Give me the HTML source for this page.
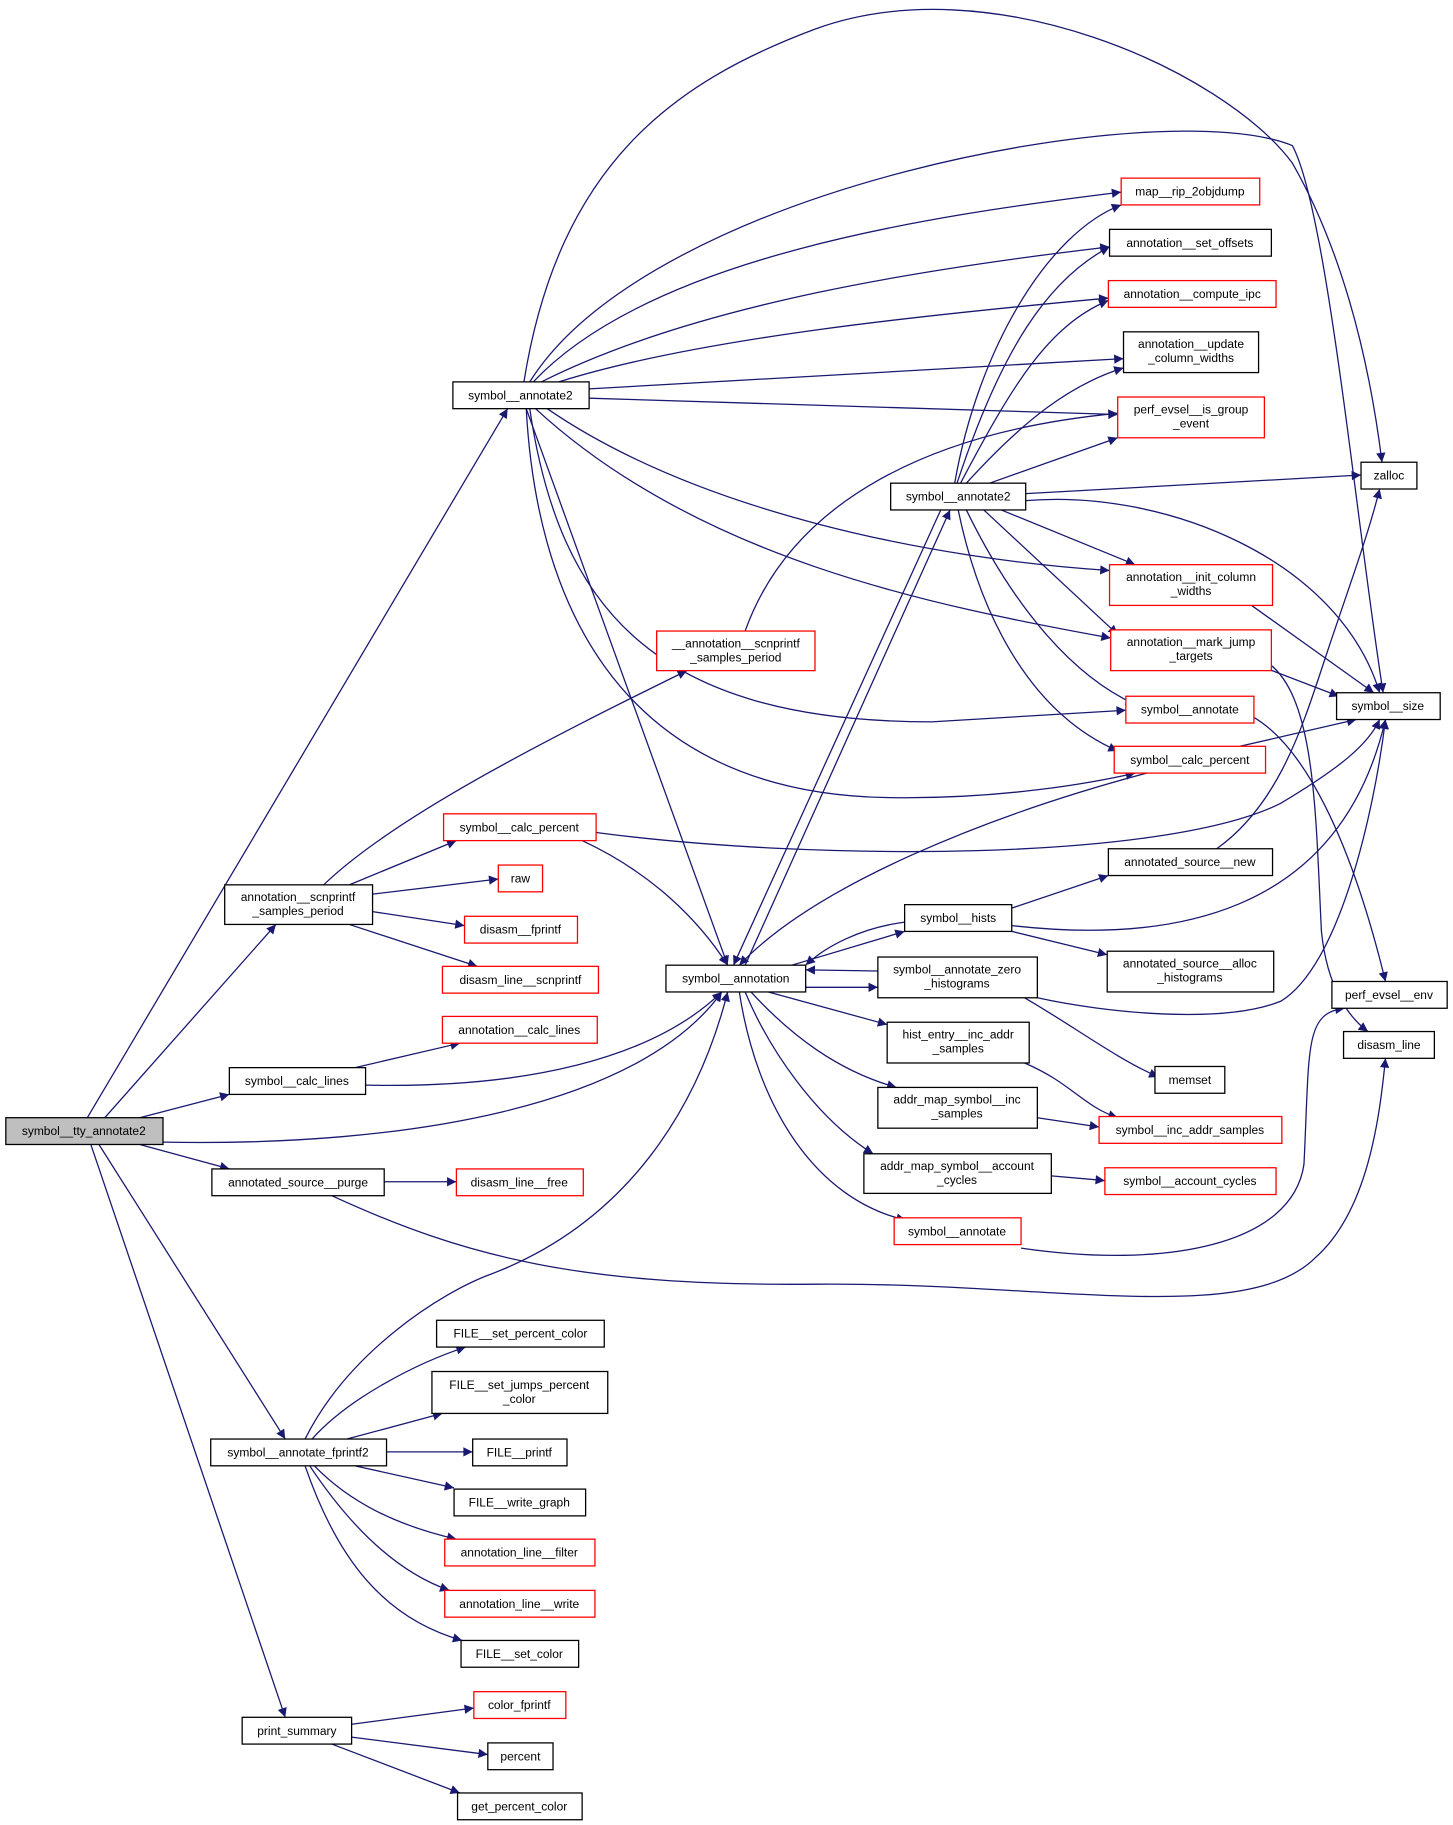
<!DOCTYPE html>
<html><head><meta charset="utf-8"><style>
html,body{margin:0;padding:0;background:#fff}
svg{display:block}
text{font-family:"Liberation Sans",sans-serif;font-size:10.3px;text-anchor:middle;fill:#000}
.e{fill:none;stroke:#191970;stroke-width:1.1;marker-end:url(#a)}
.b{fill:#fff;stroke:#000;stroke-width:1.1}
.r{fill:#fff;stroke:#ff0000;stroke-width:1.1}
</style></head><body>
<svg width="1453" height="1825" viewBox="0 0 1248 1567.5" xmlns="http://www.w3.org/2000/svg">
<defs><marker id="a" viewBox="0 0 10 10" refX="10" refY="5" markerWidth="12" markerHeight="8" markerUnits="userSpaceOnUse" orient="auto"><path d="M0,0L10,5L0,10z" fill="#191970"/></marker></defs>
<g>
<path class="e" d="M75,960L436,351"/>
<path class="e" d="M90,960L237,794"/>
<path class="e" d="M120,960L197,940"/>
<path class="e" d="M140,981C350,985 550,950 620,852"/>
<path class="e" d="M120,983L197,1004"/>
<path class="e" d="M85,983L245,1236"/>
<path class="e" d="M78,983L245,1475"/>
<path class="e" d="M450,328C480,140 580,70 700,25C850,-30 1050,60 1110,140C1150,210 1175,300 1187,397"/>
<path class="e" d="M455,328C560,160 1000,80 1110,125C1140,180 1165,450 1188,595"/>
<path class="e" d="M458,328C560,220 800,185 963,165"/>
<path class="e" d="M465,328C600,260 800,230 953,212"/>
<path class="e" d="M480,328C600,290 800,270 952,256"/>
<path class="e" d="M506,334L965,308"/>
<path class="e" d="M506,342L960,356"/>
<path class="e" d="M470,351C600,440 800,480 953,490"/>
<path class="e" d="M460,351C600,480 800,520 954,548"/>
<path class="e" d="M455,351C480,520 560,620 800,620L967,610"/>
<path class="e" d="M452,351C460,500 520,680 760,685C860,687 940,672 975,664"/>
<path class="e" d="M452,351L625,829"/>
<path class="e" d="M278,760C340,700 480,630 590,576"/>
<path class="e" d="M640,542C680,430 800,370 960,355"/>
<path class="e" d="M300,760L392,722"/>
<path class="e" d="M320,768L428,755"/>
<path class="e" d="M320,783L399,795"/>
<path class="e" d="M300,794L410,830"/>
<path class="e" d="M500,722C560,750 600,790 625,829"/>
<path class="e" d="M512,715C700,740 1000,740 1100,690C1150,660 1175,640 1185,618"/>
<path class="e" d="M305,917L395,896"/>
<path class="e" d="M314,932C450,935 560,910 620,852"/>
<path class="e" d="M330,1015L392,1015"/>
<path class="e" d="M285,1027C400,1080 500,1105 700,1103C900,1101 1070,1140 1130,1080C1175,1040 1185,960 1190,909"/>
<path class="e" d="M262,1236C300,1160 380,1110 420,1095C540,1050 600,950 625,852"/>
<path class="e" d="M268,1236C300,1200 360,1170 400,1157"/>
<path class="e" d="M298,1236L380,1214"/>
<path class="e" d="M332,1247L406,1247"/>
<path class="e" d="M305,1259L390,1278"/>
<path class="e" d="M270,1259C300,1290 340,1310 392,1322"/>
<path class="e" d="M266,1259C300,1310 340,1350 386,1366"/>
<path class="e" d="M262,1259C290,1340 330,1390 397,1409"/>
<path class="e" d="M302,1481L407,1467"/>
<path class="e" d="M302,1492L419,1507"/>
<path class="e" d="M285,1498L395,1540"/>
<path class="e" d="M808,438L630,829"/>
<path class="e" d="M640,829L816,438"/>
<path class="e" d="M820,415C840,300 900,200 963,176"/>
<path class="e" d="M822,415C860,300 900,240 953,212"/>
<path class="e" d="M825,415C870,330 900,280 952,258"/>
<path class="e" d="M830,415C880,360 920,330 965,316"/>
<path class="e" d="M850,415L960,376"/>
<path class="e" d="M881,424L1169,408"/>
<path class="e" d="M881,430C1000,420 1150,480 1185,595"/>
<path class="e" d="M860,438L975,485"/>
<path class="e" d="M845,438L960,545"/>
<path class="e" d="M830,438C870,520 920,580 975,605"/>
<path class="e" d="M823,438C840,520 880,610 960,645"/>
<path class="e" d="M985,664C850,700 700,760 635,829"/>
<path class="e" d="M1065,641L1165,618"/>
<path class="e" d="M1075,520L1180,595"/>
<path class="e" d="M1090,575L1150,598"/>
<path class="e" d="M1090,570C1130,600 1130,700 1135,800C1140,850 1160,875 1175,886"/>
<path class="e" d="M1075,615C1120,640 1160,720 1190,843"/>
<path class="e" d="M1045,729C1100,690 1120,620 1140,560C1160,500 1175,460 1185,420"/>
<path class="e" d="M680,829L777,800"/>
<path class="e" d="M777,792C740,797 710,812 692,829"/>
<path class="e" d="M692,848L754,848"/>
<path class="e" d="M754,834L692,833"/>
<path class="e" d="M869,780L952,752"/>
<path class="e" d="M869,800L951,820"/>
<path class="e" d="M869,795C1000,810 1150,790 1190,618"/>
<path class="e" d="M891,857C950,870 1050,880 1100,860C1150,830 1180,700 1190,618"/>
<path class="e" d="M880,857C920,880 960,910 995,925"/>
<path class="e" d="M660,852L762,880"/>
<path class="e" d="M645,852C680,890 720,920 770,934"/>
<path class="e" d="M640,852C660,900 700,960 750,991"/>
<path class="e" d="M635,852C650,950 700,1030 778,1048"/>
<path class="e" d="M880,913C920,930 930,950 960,960"/>
<path class="e" d="M891,960L944,968"/>
<path class="e" d="M903,1010L949,1014"/>
<path class="e" d="M877,1072C1000,1090 1110,1070 1120,1000C1125,900 1120,870 1155,866"/>
</g>
<g>
<rect x="5" y="960" width="135" height="23" fill="#bfbfbf" stroke="#000" stroke-width="1.1"/><text x="72" y="975">symbol__tty_annotate2</text>
<rect class="b" x="389" y="328" width="117" height="23"/><text x="447" y="343">symbol__annotate2</text>
<rect class="b" x="193" y="760" width="127" height="34"/><text x="256" y="774">annotation__scnprintf</text><text x="256" y="786">_samples_period</text>
<rect class="b" x="197" y="917" width="117" height="23"/><text x="255" y="932">symbol__calc_lines</text>
<rect class="b" x="182" y="1004" width="148" height="23"/><text x="256" y="1019">annotated_source__purge</text>
<rect class="b" x="181" y="1236" width="151" height="23"/><text x="256" y="1251">symbol__annotate_fprintf2</text>
<rect class="b" x="208" y="1475" width="94" height="23"/><text x="255" y="1490">print_summary</text>
<rect class="b" x="572" y="829" width="120" height="23"/><text x="632" y="844">symbol__annotation</text>
<rect class="r" x="564" y="542" width="136" height="34"/><text x="632" y="556">__annotation__scnprintf</text><text x="632" y="568">_samples_period</text>
<rect class="r" x="381" y="699" width="131" height="23"/><text x="446" y="714">symbol__calc_percent</text>
<rect class="r" x="428" y="743" width="38" height="23"/><text x="447" y="758">raw</text>
<rect class="r" x="399" y="787" width="97" height="23"/><text x="447" y="802">disasm__fprintf</text>
<rect class="r" x="380" y="830" width="134" height="23"/><text x="447" y="845">disasm_line__scnprintf</text>
<rect class="r" x="380" y="873" width="133" height="23"/><text x="446" y="888">annotation__calc_lines</text>
<rect class="r" x="392" y="1004" width="109" height="23"/><text x="446" y="1019">disasm_line__free</text>
<rect class="b" x="375" y="1134" width="144" height="23"/><text x="447" y="1149">FILE__set_percent_color</text>
<rect class="b" x="371" y="1178" width="151" height="36"/><text x="446" y="1193">FILE__set_jumps_percent</text><text x="446" y="1205">_color</text>
<rect class="b" x="406" y="1236" width="81" height="23"/><text x="446" y="1251">FILE__printf</text>
<rect class="b" x="390" y="1279" width="113" height="23"/><text x="446" y="1294">FILE__write_graph</text>
<rect class="r" x="382" y="1322" width="129" height="23"/><text x="446" y="1337">annotation_line__filter</text>
<rect class="r" x="382" y="1366" width="129" height="23"/><text x="446" y="1381">annotation_line__write</text>
<rect class="b" x="396" y="1409" width="101" height="23"/><text x="446" y="1424">FILE__set_color</text>
<rect class="r" x="407" y="1453" width="79" height="23"/><text x="446" y="1468">color_fprintf</text>
<rect class="b" x="419" y="1497" width="56" height="23"/><text x="447" y="1512">percent</text>
<rect class="b" x="393" y="1540" width="107" height="23"/><text x="446" y="1555">get_percent_color</text>
<rect class="b" x="765" y="415" width="116" height="23"/><text x="823" y="430">symbol__annotate2</text>
<rect class="r" x="963" y="153" width="119" height="23"/><text x="1022" y="168">map__rip_2objdump</text>
<rect class="b" x="953" y="197" width="139" height="23"/><text x="1022" y="212">annotation__set_offsets</text>
<rect class="r" x="952" y="241" width="144" height="23"/><text x="1024" y="256">annotation__compute_ipc</text>
<rect class="b" x="965" y="285" width="116" height="35"/><text x="1023" y="299">annotation__update</text><text x="1023" y="311">_column_widths</text>
<rect class="r" x="960" y="341" width="126" height="35"/><text x="1023" y="355">perf_evsel__is_group</text><text x="1023" y="367">_event</text>
<rect class="b" x="1169" y="397" width="48" height="23"/><text x="1193" y="412">zalloc</text>
<rect class="r" x="953" y="485" width="140" height="35"/><text x="1023" y="499">annotation__init_column</text><text x="1023" y="511">_widths</text>
<rect class="r" x="954" y="541" width="138" height="35"/><text x="1023" y="555">annotation__mark_jump</text><text x="1023" y="567">_targets</text>
<rect class="r" x="967" y="598" width="110" height="23"/><text x="1022" y="613">symbol__annotate</text>
<rect class="r" x="957" y="641" width="130" height="23"/><text x="1022" y="656">symbol__calc_percent</text>
<rect class="b" x="1148" y="595" width="89" height="23"/><text x="1192" y="610">symbol__size</text>
<rect class="b" x="952" y="729" width="141" height="23"/><text x="1022" y="744">annotated_source__new</text>
<rect class="b" x="777" y="777" width="92" height="23"/><text x="823" y="792">symbol__hists</text>
<rect class="b" x="951" y="817" width="143" height="35"/><text x="1022" y="831">annotated_source__alloc</text><text x="1022" y="843">_histograms</text>
<rect class="b" x="754" y="822" width="137" height="35"/><text x="822" y="836">symbol__annotate_zero</text><text x="822" y="848">_histograms</text>
<rect class="b" x="1144" y="843" width="99" height="23"/><text x="1193" y="858">perf_evsel__env</text>
<rect class="b" x="1154" y="886" width="78" height="23"/><text x="1193" y="901">disasm_line</text>
<rect class="b" x="992" y="916" width="60" height="23"/><text x="1022" y="931">memset</text>
<rect class="b" x="762" y="878" width="122" height="35"/><text x="823" y="892">hist_entry__inc_addr</text><text x="823" y="904">_samples</text>
<rect class="b" x="754" y="934" width="137" height="35"/><text x="822" y="948">addr_map_symbol__inc</text><text x="822" y="960">_samples</text>
<rect class="r" x="944" y="959" width="157" height="23"/><text x="1022" y="974">symbol__inc_addr_samples</text>
<rect class="b" x="742" y="991" width="161" height="34"/><text x="822" y="1005">addr_map_symbol__account</text><text x="822" y="1017">_cycles</text>
<rect class="r" x="949" y="1003" width="147" height="23"/><text x="1022" y="1018">symbol__account_cycles</text>
<rect class="r" x="768" y="1046" width="109" height="23"/><text x="822" y="1061">symbol__annotate</text>
</g>
</svg>
</body></html>
